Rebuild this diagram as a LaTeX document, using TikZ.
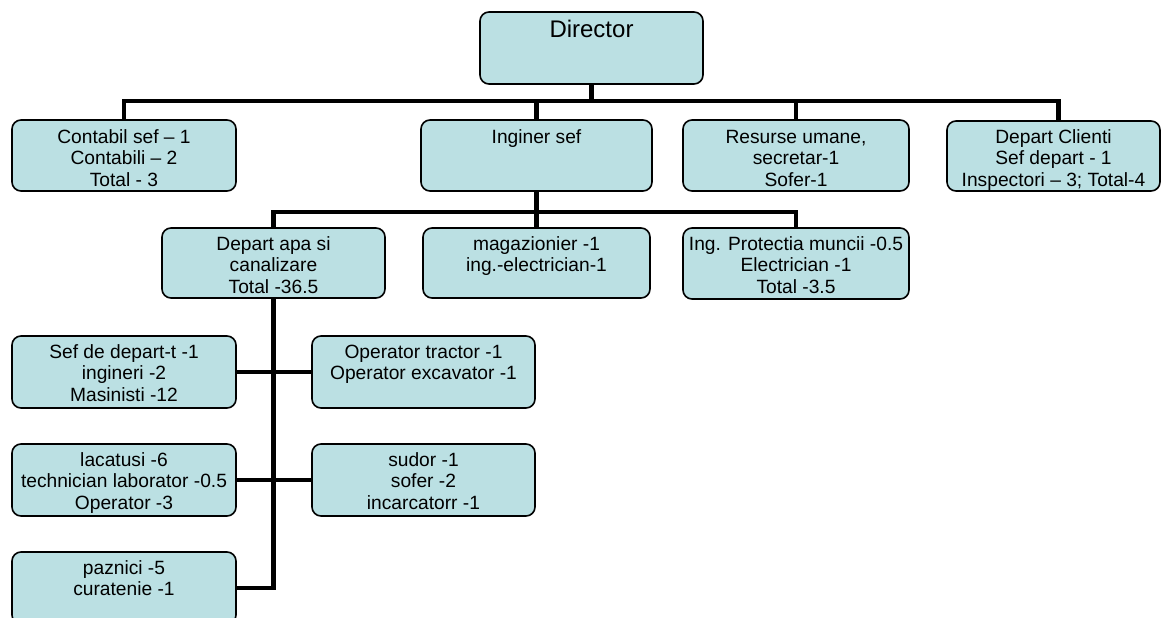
\documentclass[tikz,border=0pt]{standalone}
\usepackage{fontspec}
\setmainfont{Liberation Sans}
\usetikzlibrary{calc}
\definecolor{boxfill}{RGB}{187,224,227}
\tikzset{
  orgnode/.style={draw=black, line width=1.6pt, fill=boxfill, rounded corners=9pt,
    inner sep=0pt, outer sep=0pt, font=\fontsize{19.2}{21.7}\selectfont},
  conn/.style={line width=4.6pt, draw=black}
}
\newcommand{\orgbox}[7]{%
  \pgfmathsetmacro\bw{#4-#2}\pgfmathsetmacro\bh{#5-#3}%
  \pgfmathsetmacro\bcx{(#2+#4)/2}\pgfmathsetmacro\bcy{(#3+#5)/2}%
  \node[orgnode, minimum width=\bw pt, minimum height=\bh pt] (#1) at (\bcx,\bcy)
    {\parbox[c][\bh pt][t]{\bw pt}{\centering\rule{0pt}{#7}#6}};}
\begin{document}
\begin{tikzpicture}[x=1pt,y=-1pt]
\clip (0,0) rectangle (1162,618);
\fill[white] (0,0) rectangle (1162,618);
% level 0
\orgbox{dir}{480}{12}{703}{84}{\fontsize{24}{28}\selectfont Director}{26pt}
% level 1
\orgbox{cont}{12}{120}{236}{191}{Contabil sef – 1\\Contabili – 2\\Total - 3}{23pt}
\orgbox{ing}{421}{120}{652}{191}{Inginer sef}{23pt}
\orgbox{res}{683}{120}{909}{191}{Resurse umane,\\secretar-1\\Sofer-1}{23pt}
\orgbox{cli}{947}{121}{1160}{191}{Depart Clienti\\Sef depart - 1\\Inspectori – 3; Total-4}{22pt}
% level 2
\orgbox{apa}{162}{228}{385}{298}{Depart apa si\\canalizare\\Total -36.5}{22pt}
\orgbox{mag}{423}{228}{650}{298}{magazionier -1\\ing.-electrician-1}{22pt}
\orgbox{prot}{683}{228}{909}{299}{Ing. Protectia muncii -0.5\\Electrician -1\\Total -3.5}{22pt}
% level 3
\orgbox{sef}{12}{336}{236}{408}{Sef de depart-t -1\\ingineri -2\\Masinisti -12}{22pt}
\orgbox{optr}{312}{336}{535}{408}{Operator tractor -1\\Operator excavator -1}{22pt}
\orgbox{lac}{12}{444}{236}{516}{lacatusi -6\\technician laborator -0.5\\Operator -3}{22pt}
\orgbox{sud}{312}{444}{535}{516}{sudor -1\\sofer -2\\incarcatorr -1}{22pt}
\orgbox{paz}{12}{552}{236}{624}{paznici -5\\curatenie -1}{22pt}
% connectors
\coordinate (b1) at ($(dir.south)+(0,17)$);
\coordinate (b2) at ($(ing.south)+(0,21)$);
\draw[conn] (dir.south) -- (b1);
\draw[conn] (b1) -| (cont.north);
\draw[conn] (b1) -| (ing.north);
\draw[conn] (b1) -| (res.north);
\draw[conn] (b1) -| ([xshift=5pt]cli.north);
\draw[conn] (ing.south) -- (b2);
\draw[conn] (b2) -| (apa.north);
\draw[conn] (b2) -| (mag.north);
\draw[conn] (b2) -| (prot.north);
\draw[conn] (apa.south) |- (paz.east);
\draw[conn] (sef.east) -- (optr.west);
\draw[conn] (lac.east) -- (sud.west);
\end{tikzpicture}
\end{document}
